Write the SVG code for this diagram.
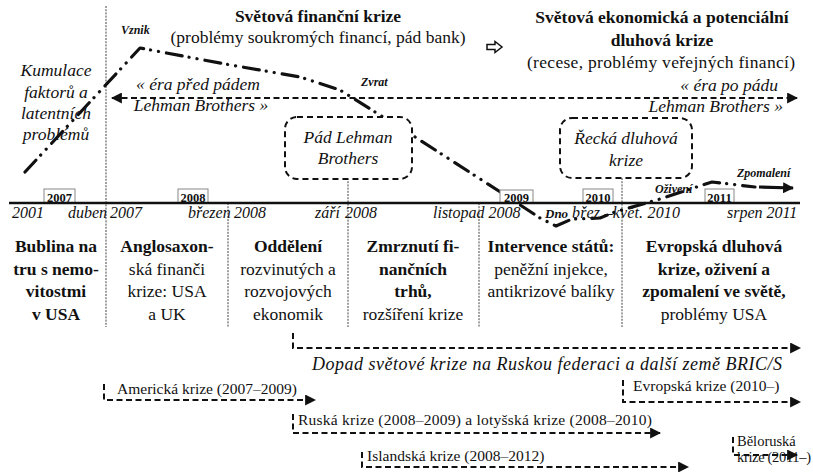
<svg xmlns="http://www.w3.org/2000/svg" width="813" height="472" viewBox="0 0 813 472">
<style>
text{font-family:"Liberation Serif","Times New Roman",serif;fill:#111}
.b{font-weight:bold}
.i{font-style:italic}
.h{font-size:17.5px}
.col{font-size:17.5px;text-anchor:middle}
.mid{text-anchor:middle}
.end{text-anchor:end}
.tl{font-size:16px;font-style:italic}
.yr{font-size:12.5px;font-weight:bold;text-anchor:middle}
.ybox{fill:#fff;stroke:#888;stroke-width:1}
.vsep{stroke:#444;stroke-width:1;stroke-dasharray:2 1.2;fill:none}
.dash{stroke:#111;stroke-width:2;stroke-dasharray:6 3.5;fill:none}
.box{fill:#fff;stroke:#111;stroke-width:2;stroke-dasharray:6 4}
.curve{fill:none;stroke:#111;stroke-width:3.2;stroke-dasharray:16 7 0.1 8 0.1 8;stroke-linecap:round;stroke-linejoin:round}
.small{font-size:15.5px}
.lbl{font-size:12px;font-weight:bold;font-style:italic}
</style>
<defs>
<marker id="ah" viewBox="0 0 10 10" refX="9" refY="5" markerWidth="11" markerHeight="11" markerUnits="userSpaceOnUse" orient="auto-start-reverse"><path d="M0,0 L10,5 L0,10 Z" fill="#111"/></marker>
</defs>

<g id="titles">
<text class="b h mid" x="318" y="22">Světová finanční krize</text>
<text class="h mid" x="318" y="43">(problémy soukromých financí, pád bank)</text>
<polygon points="487,44.5 495,44.5 495,41.5 502,47 495,52.5 495,49.5 487,49.5" fill="#fff" stroke="#111" stroke-width="1.5"/>
<text class="b h mid" x="662" y="23">Světová ekonomická a potenciální</text>
<text class="b h mid" x="662" y="46">dluhová krize</text>
<text class="h mid" x="661" y="68" textLength="268">(recese, problémy veřejných financí)</text>
</g>

<g id="kumulace">
<text class="i h mid" x="56" y="76">Kumulace</text>
<text class="i h mid" x="56" y="98">faktorů a</text>
<text class="i h mid" x="56" y="119">latentních</text>
<text class="i h mid" x="56" y="140">problémů</text>
</g>

<g id="separators">
<line class="vsep" x1="106" y1="6" x2="106" y2="327"/>
<line class="vsep" x1="228" y1="203" x2="228" y2="327"/>
<line class="vsep" x1="348" y1="178" x2="348" y2="327"/>
<line class="vsep" x1="479" y1="203" x2="479" y2="327"/>
<line class="vsep" x1="622" y1="178" x2="622" y2="327"/>
</g>

<g id="connectors">
<line class="dash" x1="112" y1="98" x2="797" y2="98" stroke-dasharray="5 3" marker-start="url(#ah)" marker-end="url(#ah)"/>
<path class="curve" d="M25,172 L140,48 L225,64 L300,77 L340,90 L375,112 L412,135 L505,195 L540,218 L556,226 L572,219 L600,218 L615,212 L660,199 L712,182 L755,187"/>
<line x1="759" y1="187" x2="793" y2="188" stroke="#111" stroke-width="3.2" marker-end="url(#ah)"/>
<path class="dash" d="M293,333 V348 H800" marker-end="url(#ah)"/>
<path class="dash" d="M104,384 V400 H315" marker-end="url(#ah)"/>
<path class="dash" d="M623,380 V402 H800" marker-end="url(#ah)"/>
<path class="dash" d="M293,414 V433 H660" marker-end="url(#ah)"/>
<path class="dash" d="M362,452 V467 H688" marker-end="url(#ah)"/>
<path class="dash" d="M733,437 V455 H797" marker-end="url(#ah)"/>
</g>

<g id="era-labels">
<text class="i h mid" x="198" y="90">« éra před pádem</text>
<text class="i h mid" x="201" y="111">Lehman Brothers »</text>
<text class="i h end" x="778" y="91">« éra po pádu</text>
<text class="i h end" x="783" y="112">Lehman Brothers »</text>
</g>

<g id="points">
<text class="lbl" x="121" y="34">Vznik</text>
<text class="lbl" x="361" y="86">Zvrat</text>
<text class="lbl" x="655" y="193">Oživení</text>
<text class="lbl" x="737" y="177">Zpomalení</text>
</g>

<g id="lehman">
<rect class="box" x="285" y="117" width="127" height="62" rx="12"/>
<text class="i h mid" x="348" y="143">Pád Lehman</text>
<text class="i h mid" x="348" y="164">Brothers</text>
</g>

<g id="recka">
<rect class="box" x="560" y="118" width="132" height="60" rx="12"/>
<text class="i h mid" x="626" y="144">Řecká dluhová</text>
<text class="i h mid" x="626" y="166">krize</text>
</g>

<g id="years">
<rect class="ybox" x="44" y="189" width="31" height="14"/><text class="yr" x="59.5" y="201.5">2007</text>
<rect class="ybox" x="178" y="189" width="30" height="14"/><text class="yr" x="193" y="201.5">2008</text>
<rect class="ybox" x="500" y="190" width="33" height="13"/><text class="yr" x="516.5" y="201.5">2009</text>
<rect class="ybox" x="583" y="189" width="30" height="14"/><text class="yr" x="598" y="201.5">2010</text>
<rect class="ybox" x="705" y="189" width="29" height="14"/><text class="yr" x="719.5" y="201.5">2011</text>
</g>

<g id="timeline">
<line x1="9" y1="203" x2="800" y2="203" stroke="#111" stroke-width="2.5"/>
<text class="tl" x="12" y="218">2001</text>
<text class="tl" x="68" y="218">duben</text>
<text class="tl" x="110" y="218">2007</text>
<text class="tl" x="188" y="218">březen</text>
<text class="tl" x="234" y="218">2008</text>
<text class="tl" x="315" y="218">září</text>
<text class="tl" x="345" y="218">2008</text>
<text class="tl" x="433" y="218">listopad 2008</text>
<text class="tl b" x="545" y="218" style="font-size:13px">Dno</text>
<text class="tl" x="572" y="218" textLength="108">břez.–květ. 2010</text>
<text class="tl" x="727" y="218">srpen 2011</text>
</g>

<g id="phase1">
<text class="col b" x="56" y="252">Bublina na</text>
<text class="col b" x="56" y="275">tru s nemo-</text>
<text class="col b" x="56" y="297">vitostmi</text>
<text class="col b" x="56" y="320">v USA</text>
</g>
<g id="phase2">
<text class="col b" x="167" y="252">Anglosaxon-</text>
<text class="col" x="167" y="275">ská finanči</text>
<text class="col" x="167" y="297">krize: USA</text>
<text class="col" x="167" y="320">a UK</text>
</g>
<g id="phase3">
<text class="col b" x="288" y="252">Oddělení</text>
<text class="col" x="288" y="275">rozvinutých a</text>
<text class="col" x="288" y="297">rozvojových</text>
<text class="col" x="288" y="320">ekonomik</text>
</g>
<g id="phase4">
<text class="col b" x="413" y="252">Zmrznutí fi-</text>
<text class="col b" x="413" y="275">nančních</text>
<text class="col b" x="413" y="297">trhů,</text>
<text class="col" x="413" y="320">rozšíření krize</text>
</g>
<g id="phase5">
<text class="col b" x="551" y="252">Intervence států:</text>
<text class="col" x="551" y="275">peněžní injekce,</text>
<text class="col" x="551" y="297">antikrizové balíky</text>
</g>
<g id="phase6">
<text class="col b" x="714" y="252">Evropská dluhová</text>
<text class="col b" x="714" y="275">krize, oživení a</text>
<text class="col b" x="714" y="297">zpomalení ve světě,</text>
<text class="col" x="714" y="320">problémy USA</text>
</g>

<g id="impacts">
<text class="i" x="312" y="370" style="font-size:18px" textLength="470">Dopad světové krize na Ruskou federaci a další země BRIC/S</text>
<text class="small" x="117" y="394">Americká krize (2007–2009)</text>
<text class="small" x="633" y="391">Evropská krize (2010–)</text>
<text class="small" x="298" y="425" textLength="354">Ruská krize (2008–2009) a lotyšská krize (2008–2010)</text>
<text class="small" x="737" y="446" style="font-size:14.5px">Běloruská</text>
<text class="small" x="737" y="462" style="font-size:14.5px" textLength="74">krize (2011–)</text>
<text class="small" x="367" y="461">Islandská krize (2008–2012)</text>
</g>
</svg>
